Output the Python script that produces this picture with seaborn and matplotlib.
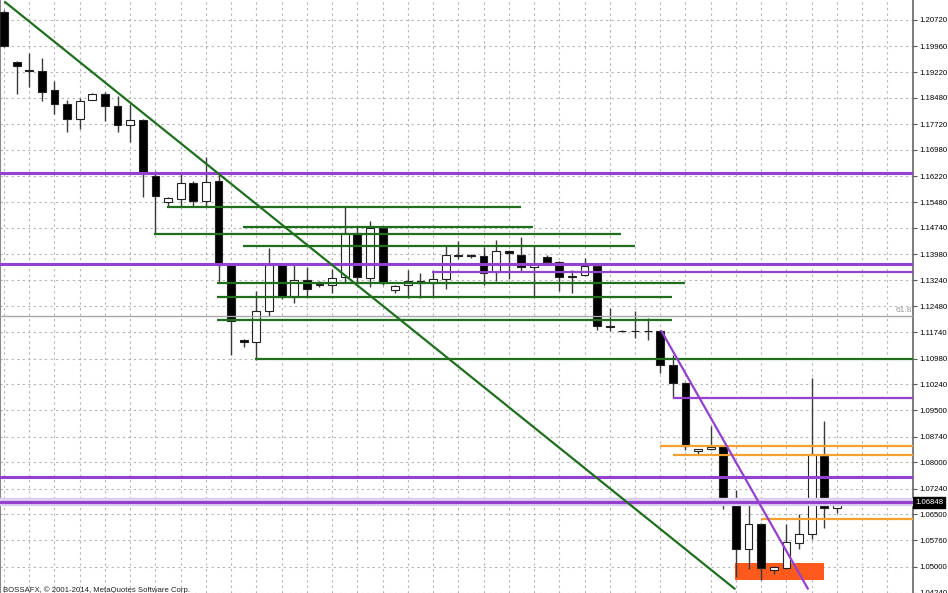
import matplotlib
matplotlib.use("Agg")
import matplotlib.pyplot as plt
import matplotlib.patches as mpatches
import numpy as np
import pandas as pd
import seaborn as sns

# daily bars (EURUSD style quotes)
opens = [1.2094, 1.1952, 1.1927, 1.1926, 1.1869, 1.1829, 1.1786, 1.1843, 1.1860, 1.1823,
         1.1769, 1.1783, 1.1623, 1.1549, 1.1557, 1.1603, 1.1552, 1.1609, 1.1366, 1.1151,
         1.1145, 1.1234, 1.1368, 1.1274, 1.1323, 1.1310, 1.1311, 1.1334, 1.1460, 1.1331,
         1.1474, 1.1294, 1.1311, 1.1320, 1.1314, 1.1328, 1.1395, 1.1395, 1.1394, 1.1346,
         1.1406, 1.1397, 1.1360, 1.1391, 1.1377, 1.1336, 1.1337, 1.1363, 1.1193, 1.1178,
         1.1177, 1.1177, 1.1177, 1.1080, 1.1028, 1.0831, 1.0837, 1.0848, 1.0688, 1.0551,
         1.0622, 1.0490, 1.0496, 1.0568, 1.0593, 1.0819, 1.0668]
highs = [1.2100, 1.1955, 1.1978, 1.1963, 1.1895, 1.1843, 1.1846, 1.1862, 1.1866, 1.1852,
         1.1829, 1.1786, 1.1637, 1.1562, 1.1632, 1.1609, 1.1677, 1.1629, 1.1368, 1.1153,
         1.1291, 1.1417, 1.1370, 1.1366, 1.1360, 1.1320, 1.1357, 1.1534, 1.1477, 1.1494,
         1.1477, 1.1310, 1.1354, 1.1343, 1.1346, 1.1423, 1.1437, 1.1399, 1.1420, 1.1440,
         1.1410, 1.1449, 1.1426, 1.1395, 1.1380, 1.1354, 1.1386, 1.1368, 1.1243, 1.1180,
         1.1234, 1.1214, 1.1179, 1.1108, 1.1030, 1.0838, 1.0905, 1.0850, 1.0719, 1.0682,
         1.0625, 1.0502, 1.0622, 1.0651, 1.1042, 1.0919, 1.0688]
lows = [1.1995, 1.1858, 1.1880, 1.1838, 1.1800, 1.1749, 1.1757, 1.1841, 1.1780, 1.1749,
        1.1720, 1.1563, 1.1457, 1.1534, 1.1537, 1.1537, 1.1534, 1.1314, 1.1108, 1.1131,
        1.1094, 1.1220, 1.1270, 1.1257, 1.1277, 1.1303, 1.1288, 1.1314, 1.1314, 1.1303,
        1.1310, 1.1288, 1.1271, 1.1271, 1.1274, 1.1297, 1.1383, 1.1388, 1.1311, 1.1320,
        1.1328, 1.1351, 1.1274, 1.1374, 1.1291, 1.1286, 1.1335, 1.1180, 1.1177, 1.1174,
        1.1157, 1.1151, 1.1057, 1.0985, 1.0834, 1.0822, 1.0835, 1.0665, 1.0470, 1.0493,
        1.0462, 1.0479, 1.0493, 1.0551, 1.0579, 1.0611, 1.0653]
closes = [1.1998, 1.1938, 1.1925, 1.1866, 1.1829, 1.1786, 1.1840, 1.1860, 1.1823, 1.1769,
          1.1783, 1.1629, 1.1566, 1.1560, 1.1603, 1.1552, 1.1606, 1.1366, 1.1205, 1.1145,
          1.1234, 1.1368, 1.1274, 1.1323, 1.1297, 1.1312, 1.1331, 1.1460, 1.1334, 1.1474,
          1.1314, 1.1308, 1.1320, 1.1314, 1.1328, 1.1397, 1.1393, 1.1393, 1.1343, 1.1406,
          1.1403, 1.1360, 1.1371, 1.1377, 1.1334, 1.1333, 1.1363, 1.1191, 1.1190, 1.1176,
          1.1176, 1.1176, 1.1080, 1.1028, 1.0848, 1.0837, 1.0845, 1.0691, 1.0551, 1.0622,
          1.0496, 1.0499, 1.0571, 1.0593, 1.0822, 1.0668, 1.0685]

price_ticks = [1.20720, 1.19960, 1.19220, 1.18480, 1.17720, 1.16980, 1.16220, 1.15480,
               1.14740, 1.13980, 1.13240, 1.12480, 1.11740, 1.10980, 1.10240, 1.09500,
               1.08740, 1.08000, 1.07240, 1.06500, 1.05760, 1.05000, 1.04240]
tick_labels = ["%.5f" % p for p in price_ticks]

# drawn objects: (price, start bar, end bar)
purple_levels = [1.16316, 1.13713, 1.07564]
purple_short = [(1.13484, 33.9), (1.09852, 53.0)]
green_levels = [(1.15343, 12.9, 41.0), (1.14771, 18.9, 41.9), (1.14571, 11.9, 48.9),
                (1.14228, 18.9, 50.0), (1.13141, 16.9, 54.0), (1.12741, 16.9, 52.9),
                (1.12083, 16.9, 52.9), (1.10967, 19.9, 75.0)]
orange_levels = [(1.08479, 52.0), (1.08222, 53.0), (1.06363, 60.0)]
fib_level = 1.12197
green_trend_x, green_trend_y = [0.08, 57.9], [1.21235, 1.04361]
purple_trend_x, purple_trend_y = [52.1, 63.7], [1.1177, 1.04361]
box_x, box_y = [57.95, 65.0], [1.04618, 1.05104]
last_price = 1.06848

df = pd.DataFrame({"open": opens, "high": highs, "low": lows, "close": closes})
df["bar"] = np.arange(len(df))
df["up"] = df["close"] >= df["open"]

sns.set_style("white")
plt.rcParams['font.family'] = ['Liberation Sans', 'DejaVu Sans']

fig = plt.figure(figsize=(9.48, 5.93), dpi=100)
ax = fig.add_axes([0, 0, 913 / 948, 1])
ax.set_xlim(-0.317, 72.03)
ax.set_ylim(1.04332, 1.21292)

# grid
ax.set_xticks(np.arange(0, 72, 2))
ax.set_yticks(price_ticks)
ax.set_yticklabels(tick_labels)
ax.grid(True, color="#b4b4b4", linestyle=(0, (2, 3)), lw=0.8, zorder=0)
ax.set_axisbelow(True)

# rectangle behind candles
ax.add_patch(mpatches.Rectangle((box_x[0], box_y[0]), box_x[1] - box_x[0], box_y[1] - box_y[0],
                                facecolor="#ff5a1e", edgecolor="none", zorder=1))

# candles
ax.vlines(df["bar"], df["low"], df["high"], color="#3a3a3a", lw=1, zorder=3)
body_bottom = df[["open", "close"]].min(axis=1)
body_h = (df["close"] - df["open"]).abs().clip(lower=0.00012)
ax.bar(df["bar"], body_h, bottom=body_bottom, width=0.62,
       color=np.where(df["up"], "white", "black"), edgecolor="#222222", lw=0.8, zorder=4)

# horizontal levels
purple = "#9440d0"
green = "#1f6f1f"
orange = "#f5a030"
ax.axhline(fib_level, color="#a8a8a8", lw=1, zorder=5)
ax.text(71.95, fib_level + 0.0008, "61.8", fontsize=6, color="#999999", ha="right", va="bottom")
for p, x0, x1 in green_levels:
    ax.hlines(p, x0, x1, color=green, lw=1.6, zorder=5)
for p, x0 in orange_levels:
    ax.hlines(p, x0, 75, color=orange, lw=1.6, zorder=5)
for p in purple_levels:
    ax.axhline(p, color=purple, lw=2.2, zorder=6)
for p, x0 in purple_short:
    ax.hlines(p, x0, 75, color=purple, lw=1.6, zorder=6)
ax.axhline(last_price, color="#ddcdee", lw=6, zorder=5)
ax.axhline(last_price, color=purple, lw=2.2, zorder=6)

# trend lines
sns.lineplot(x=green_trend_x, y=green_trend_y, color=green, lw=1.6, ax=ax, zorder=6)
sns.lineplot(x=purple_trend_x, y=purple_trend_y, color=purple, lw=1.6, ax=ax, zorder=6)

# right price scale
ax.yaxis.tick_right()
ax.tick_params(axis="y", which="both", right=True, left=False, length=3, width=0.8,
               color="#555555", labelsize=5.6, pad=1.5, labelcolor="black")
ax.tick_params(axis="x", bottom=False, labelbottom=False)
for s in ["top", "bottom"]:
    ax.spines[s].set_visible(False)
ax.spines["right"].set_color("#666666")
ax.spines["right"].set_linewidth(1.2)
ax.spines["left"].set_color("#888888")
ax.set_xlabel("")
ax.set_ylabel("")

ax.annotate("%.5f" % last_price, xy=(1.0, last_price), xycoords=("axes fraction", "data"),
            xytext=(1.5, 0), textcoords="offset points", fontsize=5.6, color="white",
            va="center", ha="left",
            bbox=dict(boxstyle="square,pad=0.25", facecolor="black", edgecolor="black"))

fig.text(0.003, 7 / 593, "BOSSAFX, \u00a9 2001-2014, MetaQuotes Software Corp.",
         fontsize=5.6, color="#222222", va="top", ha="left")

fig.savefig("out.png", dpi=100)
